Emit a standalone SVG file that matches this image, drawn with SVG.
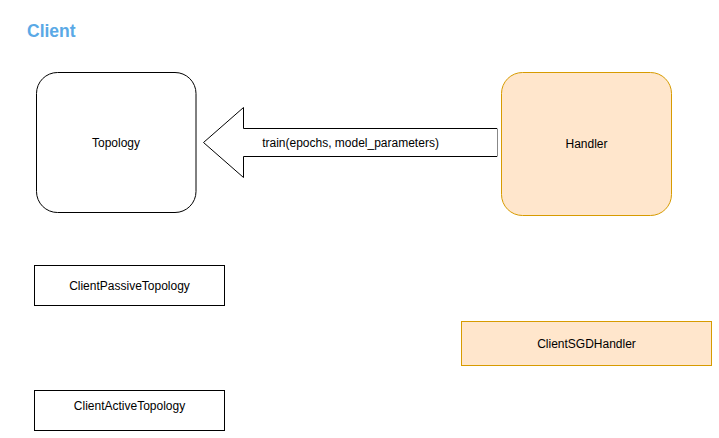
<svg xmlns="http://www.w3.org/2000/svg" width="719" height="438" viewBox="0 0 719 438">
  <style>
    .lbl { font-family: "Liberation Sans", Arial, Helvetica, sans-serif; font-size: 12px; fill: #000000; text-anchor: middle; dominant-baseline: central; }
    .plain { fill: #ffffff; stroke: #000000; stroke-width: 1; }
    .orange { fill: #ffe6cc; stroke: #d79b00; stroke-width: 1; }
    .title { font-family: "Liberation Sans", Arial, Helvetica, sans-serif; font-size: 17.5px; font-weight: bold; fill: #5aa9e6; }
  </style>
  <rect width="719" height="438" fill="#ffffff"/>
  <text class="title" x="27" y="36.5">Client</text>

  <g id="connectors">
    <path d="M497,128.5 L243.5,128.5 L243.5,107.5 L203.5,142.5 L243.5,177.5 L243.5,156.5 L497,156.5" fill="#ffffff" stroke="#000000" stroke-width="1"/>
    <line x1="497.5" y1="128.5" x2="497.5" y2="156.5" stroke="#888888" stroke-width="1"/>
    <text class="lbl" x="350.5" y="142.5">train(epochs, model_parameters)</text>
  </g>

  <g id="topology">
    <rect class="plain" x="36.5" y="72.5" width="159.5" height="140" rx="21" ry="21"/>
    <text class="lbl" x="116" y="142.5">Topology</text>
  </g>

  <g id="handler">
    <rect class="orange" x="501.5" y="72.5" width="170" height="143" rx="21" ry="21"/>
    <text class="lbl" x="586.5" y="144">Handler</text>
  </g>

  <g id="client-passive-topology">
    <rect class="plain" x="34.5" y="265.5" width="190" height="40"/>
    <text class="lbl" x="129.5" y="285.5">ClientPassiveTopology</text>
  </g>

  <g id="client-active-topology">
    <rect class="plain" x="34.5" y="390.5" width="190" height="40"/>
    <text class="lbl" x="129.5" y="406">ClientActiveTopology</text>
  </g>

  <g id="client-sgd-handler">
    <rect class="orange" x="461.5" y="321.5" width="250" height="44"/>
    <text class="lbl" x="586.5" y="343.5">ClientSGDHandler</text>
  </g>
</svg>
